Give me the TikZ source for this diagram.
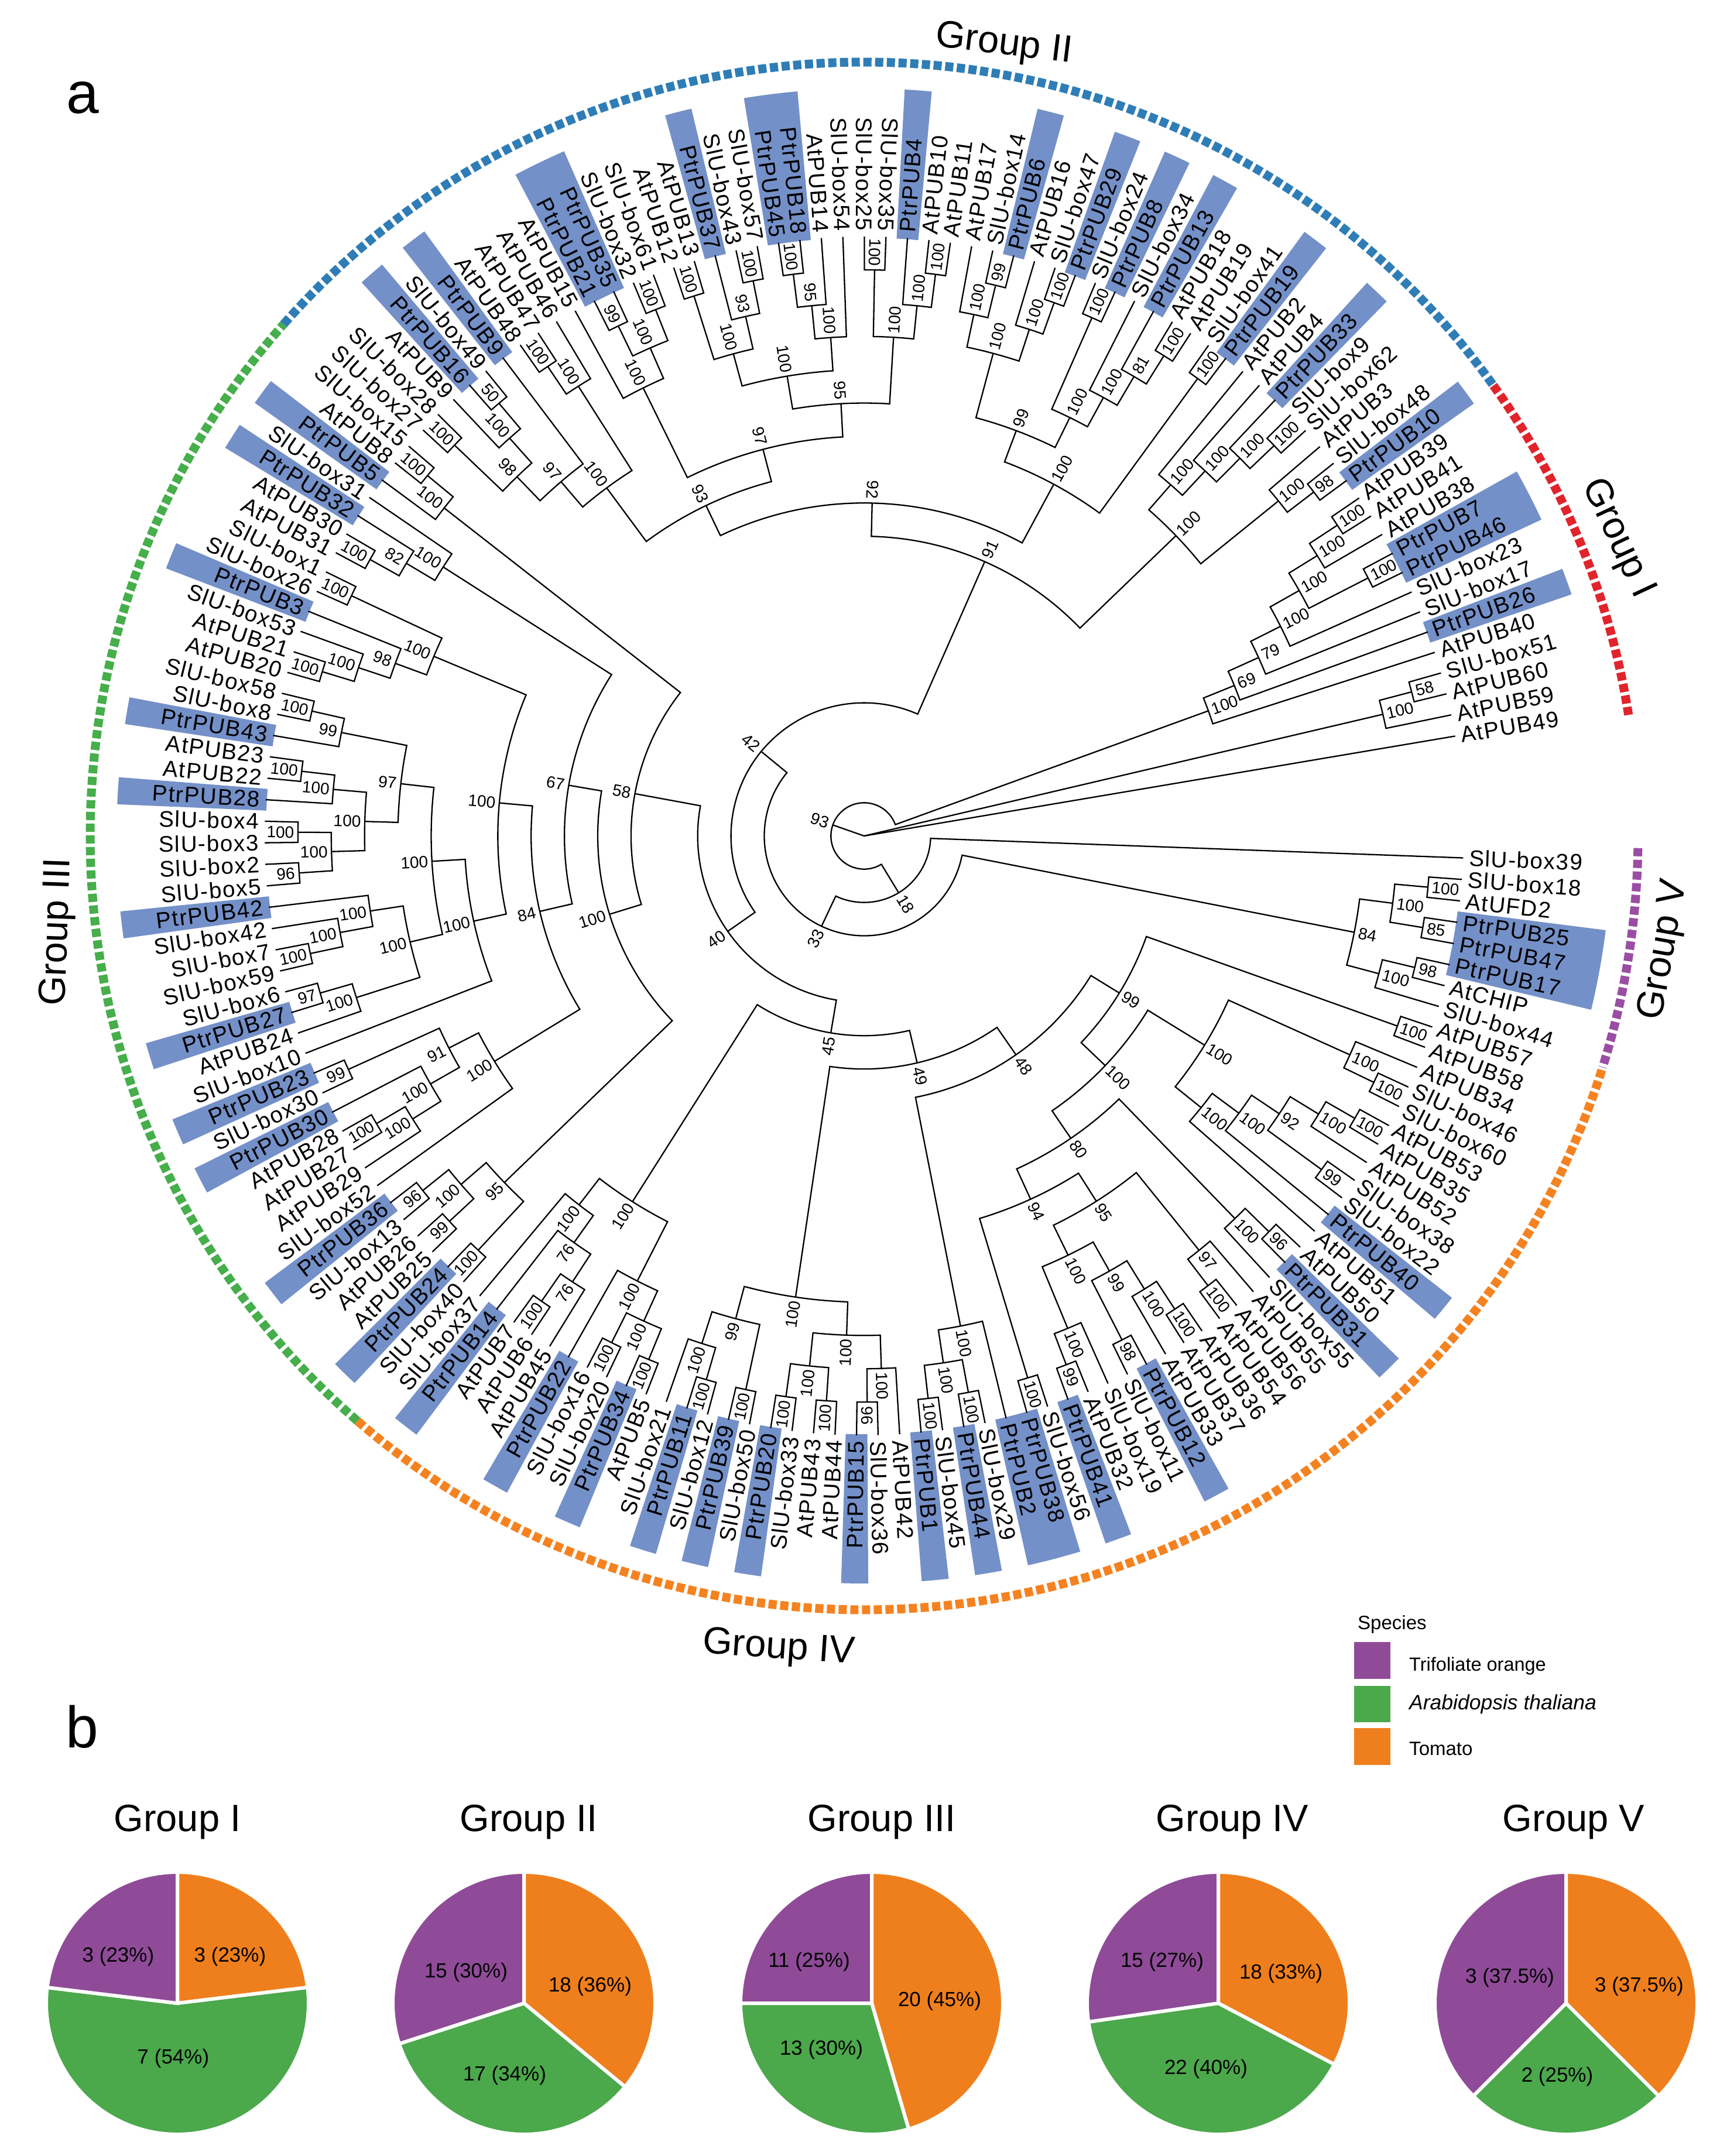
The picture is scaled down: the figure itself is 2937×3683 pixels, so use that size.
\documentclass[tikz,border=0pt]{standalone}
\usepackage{fontspec}
\setmainfont{Liberation Sans}
\newfontfamily\leaffont[LetterSpace=4.5]{Liberation Sans}
\definecolor{bandc}{HTML}{7490C8}
\definecolor{rblue}{HTML}{2F7DB6}
\definecolor{rred}{HTML}{E1232B}
\definecolor{rgreen}{HTML}{46AE4B}
\definecolor{rorange}{HTML}{F58220}
\definecolor{rpurple}{HTML}{9A4EA3}
\definecolor{ppurple}{HTML}{8F4B98}
\definecolor{pgreen}{HTML}{4BA84B}
\definecolor{porange}{HTML}{EF7F1C}
\tikzset{
 tl/.style={line width=2.3pt,black,line join=miter},
 leaflab/.style={inner sep=0pt,font=\leaffont\fontsize{38.5}{38.5}\selectfont},
 suplab/.style={inner sep=0pt,font=\fontsize{28}{28}\selectfont},
 piesl/.style={draw=white,line width=6pt,line join=miter},
 pielab/.style={inner sep=0pt,font=\fontsize{35}{35}\selectfont},
 grouplab/.style={inner sep=0pt,font=\fontsize{65}{65}\selectfont},
 panellab/.style={inner sep=0pt,font=\fontsize{100}{100}\selectfont},
 ringseg/.style={line width=15pt,dash pattern=on 14pt off 6pt},
 legtext/.style={inner sep=0pt,anchor=west,font=\fontsize{33}{33}\selectfont},
}
\newcount\leafi
\newcount\supi
\def\RR#1{1024-56.9*#1}
% rotation and side for a radial text
\def\SetRot#1{%
 \pgfmathtruncatemacro\tst{((cos(#1)>=0.05)||((cos(#1)>=0)&&(sin(#1)<0)))?1:0}%
 \ifnum\tst=1 \pgfmathsetmacro\rotA{#1}\else\pgfmathsetmacro\rotA{#1+180}\fi}
\def\Collect{\ifx\cA\relax\let\cA\retA\let\hA\retH\else\let\cB\retA\let\hB\retH\fi}
\def\Lf#1{%
 \pgfmathsetmacro\lA{-2.1-2.061*\the\leafi}%
 \SetRot{\lA}%
 \ifnum\tst=1
  \node[leaflab,anchor=west,rotate=\rotA] (L\the\leafi) at (\lA:1034pt) {#1};
 \else
  \node[leaflab,anchor=east,rotate=\rotA] (L\the\leafi) at (\lA:1034pt) {#1};
 \fi
 \global\advance\leafi 1
 \xdef\retA{\lA}\xdef\retH{0}\Collect}
\def\Lat#1{\Lf{AtPUB#1}}
\def\Lsl#1{\Lf{SlU-box#1}}
\def\Lpt#1{\Lf{PtrPUB#1}}
\def\Nn#1#2#3{%
 \begingroup
 \let\cA\relax\let\cB\relax
 #2#3%
 \pgfmathtruncatemacro\nH{max(\hA,\hB)+1}%
 \pgfmathsetmacro\nR{\RR{\nH}}%
 \pgfmathsetmacro\rA{\RR{\hA}}%
 \pgfmathsetmacro\rB{\RR{\hB}}%
 \pgfmathsetmacro\nM{(\cA+\cB)/2}%
 \draw[tl] (\cA:\rA pt) -- (\cA:\nR pt) arc[start angle=\cA,end angle=\cB,radius=\nR pt] -- (\cB:\rB pt);
 \SetRot{\nM}%
 \global\advance\supi 1
 \ifnum#1>99 \pgfmathsetmacro\tR{\nR+30}\else\pgfmathsetmacro\tR{\nR+23}\fi
 \node[suplab,rotate=\rotA] (S\the\supi) at (\nM:\tR pt) {#1};
 \xdef\retA{\nM}\xdef\retH{\nH}%
 \endgroup
 \Collect}
\let\Nb\Nn
% ---------- sub-trees, in clockwise leaf order ----------
\def\TrV{\Nn{84}{\Nn{100}{\Nb{100}{\Lsl{18}}{\Lf{AtUFD2}}}{\Nb{85}{\Lpt{25}}{\Lpt{47}}}}{\Nn{100}{\Nb{98}{\Lpt{17}}{\Lf{AtCHIP}}}{\Lsl{44}}}}
\def\TrAa{\Nn{100}{\Nb{100}{\Lat{34}}{\Nb{100}{\Lsl{46}}{\Lsl{60}}}}{\Nn{100}{\Nn{100}{\Nn{92}{\Nb{100}{\Nb{100}{\Lat{53}}{\Lat{35}}}{\Lat{52}}}{\Nb{99}{\Lsl{38}}{\Lsl{22}}}}{\Lpt{40}}}{\Lat{51}}}}
\def\TrAb{\Nn{95}{\Nn{97}{\Lat{55}}{\Nb{100}{\Lat{56}}{\Lat{54}}}}{\Nn{100}{\Nn{99}{\Nn{100}{\Nb{100}{\Lat{36}}{\Lat{37}}}{\Lat{33}}}{\Nb{98}{\Lpt{12}}{\Lsl{11}}}}{\Nn{100}{\Lsl{19}}{\Nb{99}{\Lat{32}}{\Lpt{41}}}}}}
\def\TrAc{\Nn{80}{\Nb{100}{\Nb{96}{\Lat{50}}{\Lpt{31}}}{\Lsl{55}}}{\Nn{94}{\TrAb}{\Nb{100}{\Lsl{56}}{\Lpt{38}}}}}
\def\TrAd{\Nn{99}{\Nb{100}{\Lat{57}}{\Lat{58}}}{\Nn{100}{\TrAa}{\TrAc}}}
\def\TrD{\Nn{100}{\Lpt{2}}{\Nn{100}{\Nb{100}{\Lsl{29}}{\Lpt{44}}}{\Nb{100}{\Lsl{45}}{\Lpt{1}}}}}
\def\TrE{\Nn{100}{\Nn{100}{\Nn{100}{\Lat{42}}{\Nb{96}{\Lsl{36}}{\Lpt{15}}}}{\Nn{100}{\Nb{100}{\Lat{44}}{\Lat{43}}}{\Nb{100}{\Lsl{33}}{\Lpt{20}}}}}{\Nn{99}{\Nb{100}{\Lsl{50}}{\Lpt{39}}}{\Nn{100}{\Nb{100}{\Lsl{12}}{\Lpt{11}}}{\Lsl{21}}}}}
\def\TrCa{\Nn{100}{\Nn{100}{\Nb{100}{\Lat{5}}{\Lpt{34}}}{\Nb{100}{\Lsl{20}}{\Lsl{16}}}}{\Lpt{22}}}
\def\TrCb{\Nn{100}{\Nn{76}{\Nn{76}{\Lat{45}}{\Nb{100}{\Lat{6}}{\Lat{7}}}}{\Lpt{14}}}{\Lsl{37}}}
\def\TrF{\Nn{100}{\TrCa}{\TrCb}}
\def\TrG{\Nn{45}{\Nn{49}{\Nn{48}{\TrAd}{\TrD}}{\TrE}}{\TrF}}
\def\TrHa{\Nn{95}{\Nb{100}{\Lsl{40}}{\Lpt{24}}}{\Nn{100}{\Nb{99}{\Lat{25}}{\Lat{26}}}{\Nb{96}{\Lsl{13}}{\Lpt{36}}}}}
\def\TrHb{\Nn{100}{\Lsl{52}}{\Nn{91}{\Nn{100}{\Nn{100}{\Lat{29}}{\Nb{100}{\Lat{27}}{\Lat{28}}}}{\Lpt{30}}}{\Nb{99}{\Lsl{30}}{\Lpt{23}}}}}
\def\TrHc{\Nn{100}{\Nn{100}{\Lat{24}}{\Nb{97}{\Lpt{27}}{\Lsl{6}}}}{\Nn{100}{\Nn{100}{\Nb{100}{\Lsl{59}}{\Lsl{7}}}{\Lsl{42}}}{\Lpt{42}}}}
\def\TrHd{\Nn{97}{\Nn{100}{\Nn{100}{\Nb{96}{\Lsl{5}}{\Lsl{2}}}{\Nb{100}{\Lsl{3}}{\Lsl{4}}}}{\Nn{100}{\Lpt{28}}{\Nb{100}{\Lat{22}}{\Lat{23}}}}}{\Nn{99}{\Lpt{43}}{\Nb{100}{\Lsl{8}}{\Lsl{58}}}}}
\def\TrHe{\Nn{100}{\Nn{98}{\Nn{100}{\Nb{100}{\Lat{20}}{\Lat{21}}}{\Lsl{53}}}{\Lpt{3}}}{\Nb{100}{\Lsl{26}}{\Lsl{1}}}}
\def\TrHf{\Nn{100}{\Nn{100}{\Lsl{10}}{\Nn{100}{\TrHc}{\TrHd}}}{\TrHe}}
\def\TrHg{\Nn{67}{\Nn{84}{\TrHb}{\TrHf}}{\Nn{100}{\Nn{82}{\Nb{100}{\Lat{31}}{\Lat{30}}}{\Lpt{32}}}{\Lsl{31}}}}
\def\TrH{\Nn{58}{\Nn{100}{\TrHa}{\TrHg}}{\Nb{100}{\Lpt{5}}{\Nb{100}{\Lat{8}}{\Lsl{15}}}}}
\def\TrJa{\Nn{100}{\Nn{97}{\Nn{98}{\Nb{100}{\Lsl{27}}{\Lsl{28}}}{\Nn{100}{\Lat{9}}{\Nb{50}{\Lpt{16}}{\Lsl{49}}}}}{\Lpt{9}}}{\Nb{100}{\Nb{100}{\Lat{48}}{\Lat{47}}}{\Lat{46}}}}
\def\TrJb{\Nn{95}{\Nn{100}{\Nn{100}{\Nb{100}{\Lat{12}}{\Lat{13}}}{\Nn{93}{\Lpt{37}}{\Nb{100}{\Lsl{43}}{\Lsl{57}}}}}{\Nn{100}{\Nn{95}{\Nb{100}{\Lpt{45}}{\Lpt{18}}}{\Lat{14}}}{\Lsl{54}}}}{\Nn{100}{\Nb{100}{\Lsl{25}}{\Lsl{35}}}{\Nn{100}{\Lpt{4}}{\Nb{100}{\Lat{10}}{\Lat{11}}}}}}
\def\TrJc{\Nn{97}{\Nn{100}{\Lat{15}}{\Nn{100}{\Nb{99}{\Lpt{21}}{\Lpt{35}}}{\Nb{100}{\Lsl{32}}{\Lsl{61}}}}}{\TrJb}}
\def\TrJd{\Nn{100}{\Nn{99}{\Nn{100}{\Nn{100}{\Lat{17}}{\Nb{99}{\Lsl{14}}{\Lpt{6}}}}{\Nn{100}{\Lat{16}}{\Nb{100}{\Lsl{47}}{\Lpt{29}}}}}{\Nn{100}{\Nb{100}{\Lsl{24}}{\Lpt{8}}}{\Nn{100}{\Lsl{34}}{\Nn{81}{\Lpt{13}}{\Nb{100}{\Lat{18}}{\Lat{19}}}}}}}{\Nb{100}{\Lsl{41}}{\Lpt{19}}}}
\def\TrJe{\Nn{100}{\Nn{100}{\Lat{2}}{\Nn{100}{\Lat{4}}{\Nn{100}{\Lpt{33}}{\Nb{100}{\Lsl{9}}{\Lsl{62}}}}}}{\Nn{100}{\Lat{3}}{\Nb{98}{\Lsl{48}}{\Lpt{10}}}}}
\def\TrJ{\Nn{91}{\Nn{92}{\Nn{93}{\TrJa}{\TrJc}}{\TrJd}}{\TrJe}}
\def\TrK{\Nn{100}{\Nn{69}{\Nn{79}{\Nn{100}{\Nn{100}{\Nn{100}{\Nb{100}{\Lat{39}}{\Lat{41}}}{\Lat{38}}}{\Nb{100}{\Lpt{7}}{\Lpt{46}}}}{\Lsl{23}}}{\Lsl{17}}}{\Lpt{26}}}{\Lat{40}}}
% ---------- pies ----------
\newcommand\PieC[6]{%
 \pgfmathsetmacro\pT{#2+#3+#4}%
 \pgfmathsetmacro\pO{90-360*#2/\pT}%
 \pgfmathsetmacro\pG{\pO-360*#3/\pT}%
 \begin{scope}[shift={(#1,-3422)}]
  \filldraw[piesl,fill=porange] (0,0) -- (90:224pt) arc[start angle=90,end angle=\pO,radius=224pt] -- cycle;
  \filldraw[piesl,fill=pgreen] (0,0) -- (\pO:224pt) arc[start angle=\pO,end angle=\pG,radius=224pt] -- cycle;
  \filldraw[piesl,fill=ppurple] (0,0) -- (\pG:224pt) arc[start angle=\pG,end angle=-270,radius=224pt] -- cycle;
 \end{scope}
 \node[grouplab] (title#5) at (#6,-3113) {Group #5};}
\begin{document}
\begin{tikzpicture}[x=1pt,y=1pt]
\useasboundingbox (0,0) rectangle (2937,-3683);
\fill[white] (0,0) rectangle (2937,-3683);
\begin{scope}[shift={(1476,-1428)}]
 \foreach \i in {3,4,5,18,21,29,33,35,36,38,40,43,47,49,51,54,57,61,64,68,73,75,78,83,88,91,97,102,104,110,112,117,118,123,126,127,132,137,140,142,144,148,151,156,160,161,164}{
  \pgfmathsetmacro\bA{-2.1-2.061*\i+1.04}
  \pgfmathsetmacro\bB{-2.1-2.061*\i-1.04}
  \fill[bandc] (\bA:1022pt) arc[start angle=\bA,end angle=\bB,radius=1022pt] -- (\bB:1277pt) arc[start angle=\bB,end angle=\bA,radius=1277pt] -- cycle;
 }
 \draw[ringseg,rpurple] (-0.9:1322pt) arc[start angle=-0.9,end angle=-17.4,radius=1322pt];
 \draw[ringseg,rorange] (-17.6:1322pt) arc[start angle=-17.6,end angle=-130.9,radius=1322pt];
 \draw[ringseg,rgreen] (-130.9:1322pt) arc[start angle=-130.9,end angle=-221.4,radius=1322pt];
 \draw[ringseg,rblue] (-221.4:1322pt) arc[start angle=-221.4,end angle=-324.4,radius=1322pt];
 \draw[ringseg,rred] (-324.4:1322pt) arc[start angle=-324.4,end angle=-351,radius=1322pt];
 \leafi=0
 \coordinate (root) at (0,0);
 \let\cA\relax\let\cB\relax
 \Nn{93}{\Nn{18}{\Lsl{39}}{\Nn{33}{\TrV}{\Nn{42}{\Nn{40}{\TrG}{\TrH}}{\TrJ}}}}{\TrK}
 \pgfmathsetmacro\tmpR{\RR{\retH}}
 \draw[tl] (root) -- (\retA:\tmpR pt);
 \let\cA\relax\let\cB\relax
 \Nb{100}{\Nb{58}{\Lsl{51}}{\Lat{60}}}{\Lat{59}}
 \pgfmathsetmacro\tmpR{\RR{\retH}}
 \draw[tl] (root) -- (\retA:\tmpR pt);
 \let\cA\relax\let\cB\relax
 \Lat{49}
 \draw[tl] (root) -- (\retA:1024pt);
\end{scope}
\node[panellab] (pa) at (141,-167) {a};
\node[panellab] (pb) at (140,-2950) {b};
\node[grouplab,rotate=-7] (g2) at (1715,-77) {Group II};
\node[grouplab,rotate=-65] (g1) at (2763,-920) {Group I};
\node[grouplab,rotate=88] (g3) at (99,-1592) {Group III};
\node[grouplab,rotate=-4] (g4) at (1330,-2817) {Group IV};
\node[grouplab,rotate=80] (g5) at (2843,-1623) {Group V};
% legend
\node[inner sep=0pt,anchor=west,font=\fontsize{33}{33}\selectfont] (sp) at (2319,-2775) {Species};
\fill[ppurple] (2313,-2805) rectangle (2375,-2868);
\fill[pgreen] (2313,-2880) rectangle (2375,-2942);
\fill[porange] (2313,-2952) rectangle (2375,-3015);
\node[legtext,font=\fontsize{32.5}{33}\selectfont] (l1) at (2407,-2846) {Trifoliate orange};
\node[legtext,font=\fontsize{35.5}{36}\selectfont] (l2) at (2407,-2911) {\itshape Arabidopsis thaliana};
\node[legtext] (l3) at (2407,-2987) {Tomato};
% pies
\PieC{303}{3}{7}{3}{I}{303}
\PieC{895}{18}{17}{15}{II}{903}
\PieC{1489}{20}{13}{11}{III}{1506}
\PieC{2081}{18}{22}{15}{IV}{2105}
\PieC{2675}{3}{2}{3}{V}{2688}
\node[pielab] (a1) at (393,-3342) {3 (23\%)};
\node[pielab] (a2) at (202,-3342) {3 (23\%)};
\node[pielab] (a3) at (296,-3516) {7 (54\%)};
\node[pielab] (b1) at (1008,-3393) {18 (36\%)};
\node[pielab] (b2) at (862,-3545) {17 (34\%)};
\node[pielab] (b3) at (796,-3369) {15 (30\%)};
\node[pielab] (c1) at (1605,-3418) {20 (45\%)};
\node[pielab] (c2) at (1403,-3501) {13 (30\%)};
\node[pielab] (c3) at (1382,-3351) {11 (25\%)};
\node[pielab] (d1) at (2188,-3371) {18 (33\%)};
\node[pielab] (d2) at (2060,-3534) {22 (40\%)};
\node[pielab] (d3) at (1985,-3351) {15 (27\%)};
\node[pielab] (e1) at (2800,-3393) {3 (37.5\%)};
\node[pielab] (e2) at (2660,-3547) {2 (25\%)};
\node[pielab] (e3) at (2579,-3378) {3 (37.5\%)};
\end{tikzpicture}
\end{document}
